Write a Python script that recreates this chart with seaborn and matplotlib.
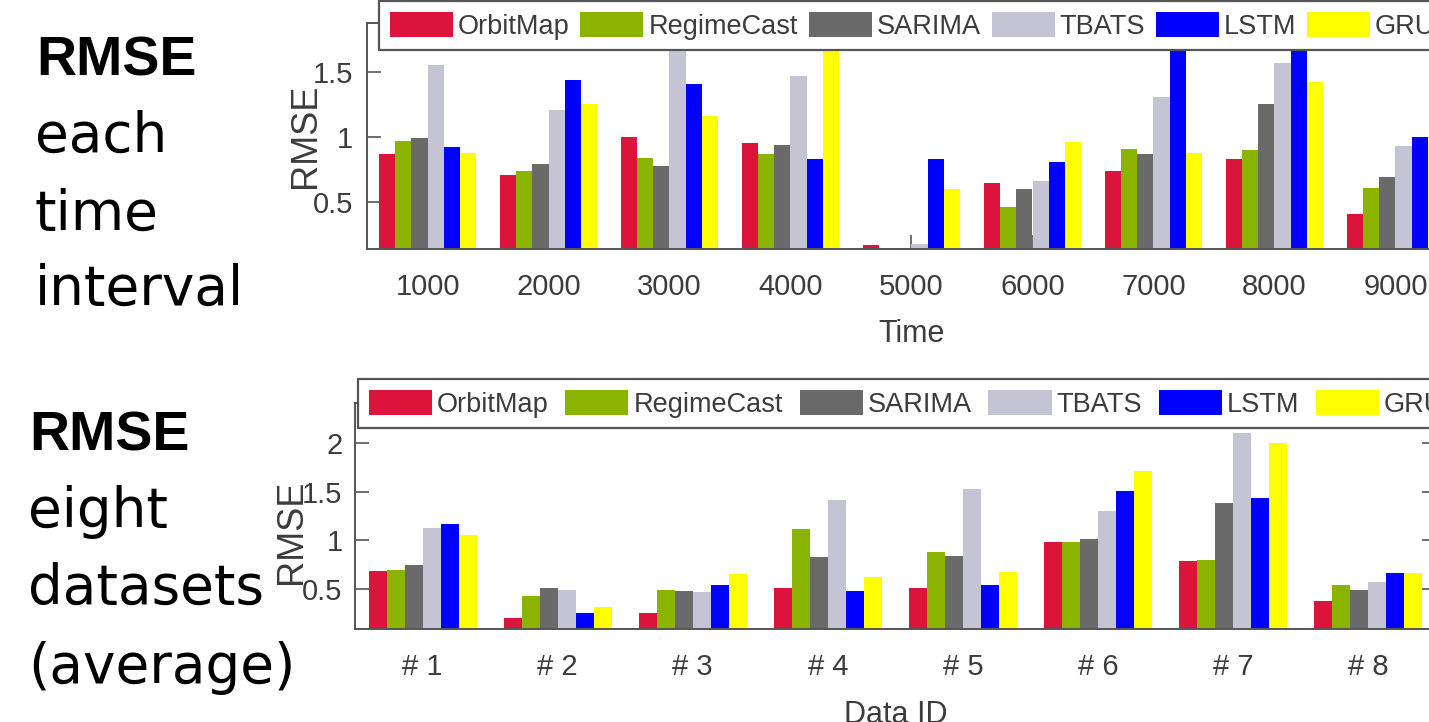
import numpy as np
import pandas as pd
import matplotlib
matplotlib.use("Agg")
import matplotlib.pyplot as plt
import seaborn as sns
from matplotlib import font_manager as fm
from matplotlib.ticker import FuncFormatter, FixedLocator

# ---------------- data ----------------
methods = ["OrbitMap", "RegimeCast", "SARIMA", "TBATS", "LSTM", "GRU"]

time_labels = ["1000", "2000", "3000", "4000", "5000", "6000", "7000", "8000", "9000"]
orbit_t = [0.87, 0.71, 1.00, 0.95, 0.17, 0.65, 0.74, 0.83, 0.41]
regime_t = [0.97, 0.74, 0.84, 0.87, 0.148, 0.46, 0.91, 0.90, 0.61]
sarima_t = [0.99, 0.79, 0.78, 0.94, 0.15, 0.60, 0.87, 1.25, 0.69]
tbats_t = [1.55, 1.21, 1.95, 1.47, 0.18, 0.66, 1.31, 1.57, 0.93]
lstm_t = [0.92, 1.44, 1.41, 0.83, 0.83, 0.81, 2.00, 2.00, 1.00]
gru_t = [0.88, 1.25, 1.16, 2.00, 0.60, 0.96, 0.88, 1.42, 0.99]

data_labels = ["# 1", "# 2", "# 3", "# 4", "# 5", "# 6", "# 7", "# 8"]
orbit_b = [0.69, 0.20, 0.25, 0.51, 0.51, 0.98, 0.79, 0.38]
regime_b = [0.70, 0.43, 0.49, 1.12, 0.88, 0.98, 0.80, 0.54]
sarima_b = [0.75, 0.51, 0.48, 0.83, 0.84, 1.01, 1.38, 0.49]
tbats_b = [1.13, 0.49, 0.47, 1.41, 1.53, 1.30, 2.10, 0.57]
lstm_b = [1.17, 0.25, 0.54, 0.48, 0.54, 1.51, 1.43, 0.66]
gru_b = [1.06, 0.32, 0.65, 0.62, 0.68, 1.71, 2.00, 0.66]

top_yticks = [0.5, 1.0, 1.5]
bot_yticks = [0.5, 1.0, 1.5, 2.0]

colors = {"OrbitMap": "#DC143C", "RegimeCast": "#8AB400", "SARIMA": "#6A6A6A",
          "TBATS": "#C4C4D4", "LSTM": "#0000FF", "GRU": "#FFFF00"}


def long_frame(cats, series, xname):
    rows = []
    for m, vals in zip(methods, series):
        for c, v in zip(cats, vals):
            rows.append({xname: c, "Method": m, "RMSE": v})
    return pd.DataFrame(rows)


df_top = long_frame(time_labels, [orbit_t, regime_t, sarima_t, tbats_t, lstm_t, gru_t], "Time")
df_bot = long_frame(data_labels, [orbit_b, regime_b, sarima_b, tbats_b, lstm_b, gru_b], "Data ID")

# ---------------- style ----------------
names = {f.name for f in fm.fontManager.ttflist}
narrow = "Liberation Sans Narrow" if "Liberation Sans Narrow" in names else "Liberation Sans"

sns.set_theme(style="white")
plt.rcParams["font.family"] = [narrow, "DejaVu Sans"]

W, H = 1429, 722
fig = plt.figure(figsize=(W / 100, H / 100), dpi=100)
fig.patch.set_facecolor("white")


def px_axes(left, right, top, bottom):
    return fig.add_axes([left / W, 1 - bottom / H, (right - left) / W, (bottom - top) / H])


GRAY = "#555555"
TXT = "#3c3c3c"
TICK_FS = 21
LEG_FS = 19.5
LAB_FS = 22


def draw(ax, df, xcol, cats, ylim, yticks, ylab_xy, xlab_y, leg_anchor, ypad,
         colspace, bpad):
    sns.barplot(data=df, x=xcol, y="RMSE", hue="Method", hue_order=methods,
                order=cats, palette=colors, width=0.8, saturation=1,
                linewidth=0, errorbar=None, ax=ax)
    ax.set_xlim(-0.5, len(cats) - 0.5)
    ax.set_ylim(*ylim)
    ax.yaxis.set_major_locator(FixedLocator(yticks))
    ax.yaxis.set_major_formatter(FuncFormatter(lambda v, p: f"{v:g}"))
    for s in ax.spines.values():
        s.set_visible(True)
        s.set_color(GRAY)
        s.set_linewidth(1.4)
    ax.tick_params(axis="both", direction="in", length=10, width=1.2, color=GRAY,
                   labelsize=TICK_FS, labelcolor=TXT)
    ax.tick_params(axis="y", right=True, left=True, pad=ypad)
    ax.tick_params(axis="x", bottom=True, top=False, pad=17)
    ax.set_ylabel("RMSE", fontsize=26, color=TXT)
    ax.yaxis.set_label_coords(*ylab_xy)
    ax.set_xlabel(xcol, fontsize=LAB_FS, color=TXT)
    ax.xaxis.set_label_coords(0.5, xlab_y)
    sns.move_legend(ax, "upper left", bbox_to_anchor=leg_anchor,
                    bbox_transform=fig.transFigure, ncol=6, title=None,
                    frameon=True, fancybox=False, framealpha=1, edgecolor=GRAY,
                    fontsize=LEG_FS, handlelength=2.33, handleheight=1.05,
                    handletextpad=0.18, columnspacing=colspace, borderpad=bpad,
                    borderaxespad=0)
    leg = ax.get_legend()
    leg.get_frame().set_linewidth(1.6)
    for t in leg.get_texts():
        t.set_color(TXT)


ax1 = px_axes(367, 1456, 23, 249)
draw(ax1, df_top, "Time", time_labels, (0.14, 1.875), top_yticks,
     (-0.040, 0.5), -0.31, (379 / W, 1 - 1 / H), 10, 0.40, 0.40)

ax2 = px_axes(355, 1436, 403, 629)
draw(ax2, df_bot, "Data ID", data_labels, (0.09, 2.41), bot_yticks,
     (-0.043, 0.43), -0.315, (358 / W, 1 - 379 / H), 9, 0.62, 0.40)

# ---------------- left side slide text ----------------
bold_family = [narrow, "DejaVu Sans"]
body_family = ["DejaVu Sans"]


def left_text(x, y, s, bold=False):
    if bold:
        fig.text(x / W, 1 - y / H, s, fontsize=40, fontweight="bold",
                 family=bold_family, color="black", va="baseline", ha="left")
    else:
        fig.text(x / W, 1 - y / H, s, fontsize=39.5, family=body_family,
                 color="black", va="baseline", ha="left")


left_text(36, 75, "RMSE", bold=True)
left_text(35, 152, "each")
left_text(35, 230, "time")
left_text(35, 305, "interval")

left_text(29, 450, "RMSE", bold=True)
left_text(28, 527, "eight")
left_text(28, 604, "datasets")
left_text(28, 683, "(average)")

fig.savefig("out.png", dpi=100, facecolor="white")
